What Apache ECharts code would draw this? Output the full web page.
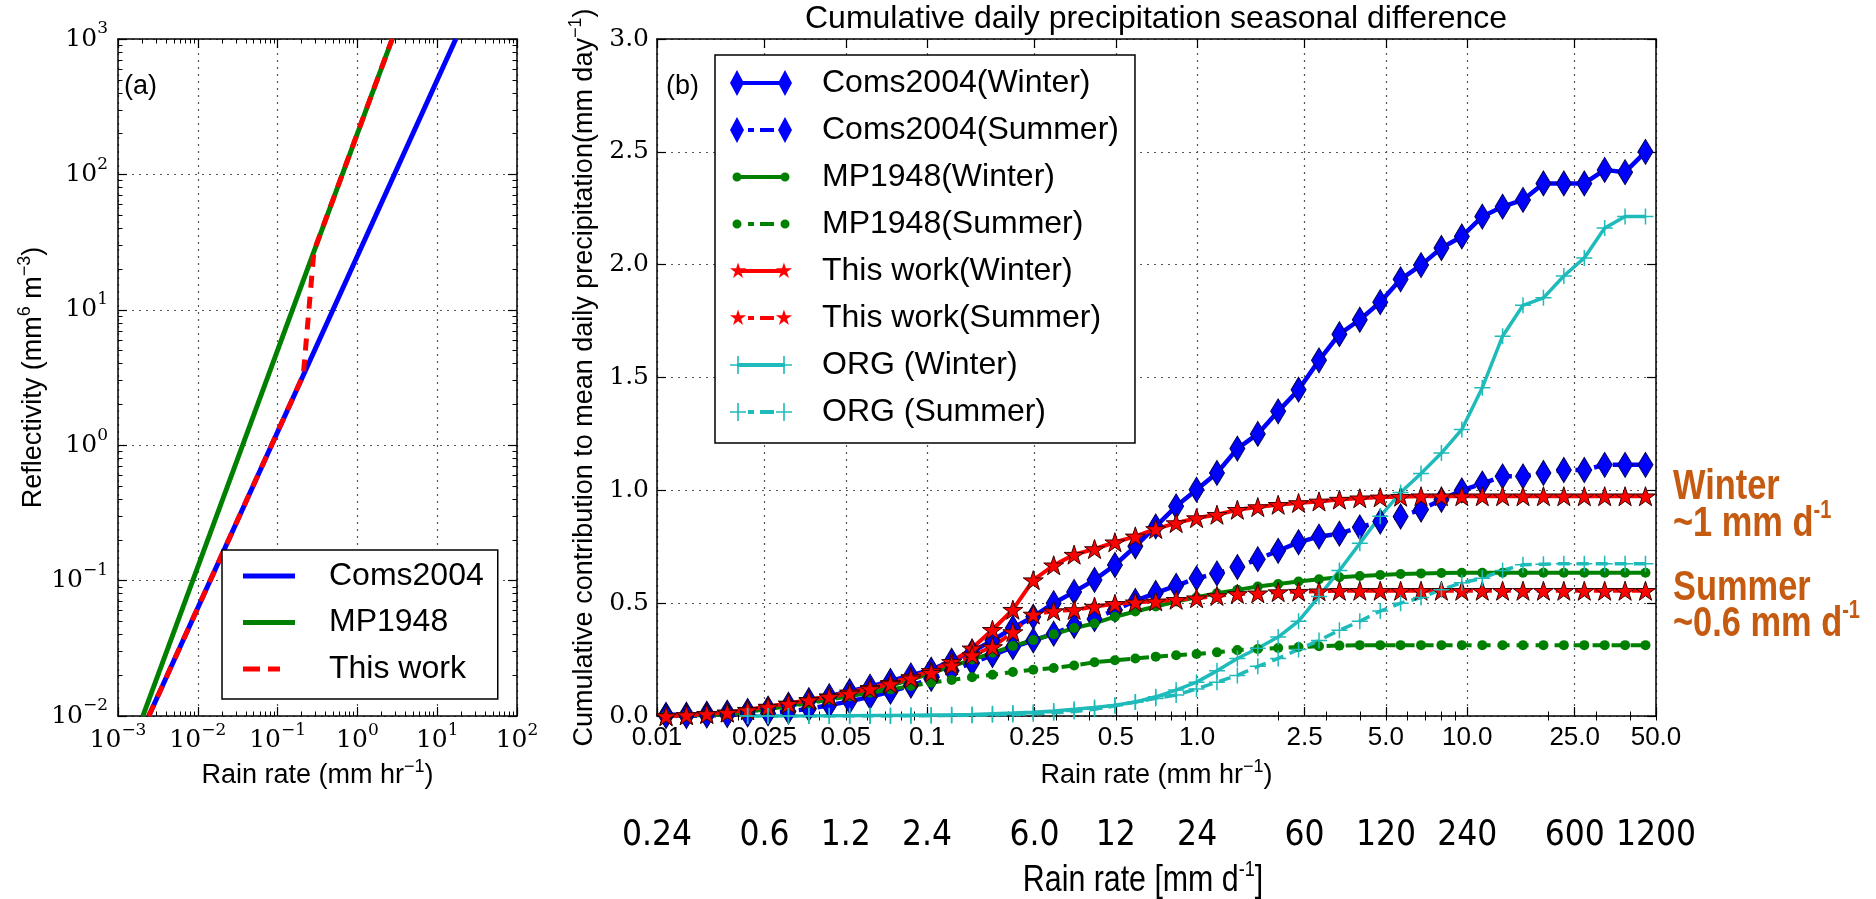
<!DOCTYPE html>
<html>
<head>
<meta charset="utf-8">
<script src="https://cdn.jsdelivr.net/npm/echarts@6/dist/echarts.min.js"></script>
<style>html,body{margin:0;padding:0;background:#fff}#c{width:1876px;height:899px}</style>
</head>
<body>
<div id="c"></div>
<script>
// ================= Panel (a): Z-R relations =================
const zrNames = ['Coms2004', 'MP1948', 'This work'];
const comsRate = [0.00243, 17.1];
const comsZ = [0.01, 1000];
const mpRate = [0.00205, 2.73];
const mpZ = [0.01, 1000];
const thisRate = [0.00243, 0.21, 0.285, 2.73];
const thisZ = [0.01, 3.3, 27, 1000];
const aXTicks = [0.001, 0.01, 0.1, 1, 10, 100];
const aYTicks = [0.01, 0.1, 1, 10, 100, 1000];

// ================= Panel (b): cumulative precipitation =================
const rateBins = [0.0108, 0.01285, 0.01529, 0.0182, 0.02166, 0.02577, 0.03067, 0.0365, 0.04343, 0.05168,
  0.0615, 0.07318, 0.0871, 0.1036, 0.1233, 0.1468, 0.1746, 0.2078, 0.2473, 0.2943,
  0.3503, 0.4169, 0.4961, 0.5904, 0.7025, 0.836, 0.9949, 1.184, 1.409, 1.677,
  1.995, 2.374, 2.826, 3.363, 4.002, 4.763, 5.667, 6.745, 8.025, 9.55,
  11.37, 13.52, 16.09, 19.15, 22.79, 27.13, 32.28, 38.41, 45.71];
const comsWinter = [0.005, 0.006, 0.01, 0.015, 0.022, 0.033, 0.05, 0.07, 0.088, 0.11,
  0.13, 0.155, 0.18, 0.205, 0.245, 0.285, 0.335, 0.39, 0.44, 0.50,
  0.55, 0.603, 0.669, 0.752, 0.84, 0.929, 1.003, 1.077, 1.185, 1.25,
  1.35, 1.446, 1.576, 1.692, 1.756, 1.834, 1.935, 1.998, 2.074, 2.125,
  2.213, 2.257, 2.287, 2.36, 2.36, 2.36, 2.42, 2.41, 2.5];
const comsSummer = [0.0, 0.0, 0.002, 0.004, 0.007, 0.012, 0.02, 0.032, 0.048, 0.065,
  0.085, 0.108, 0.135, 0.165, 0.2, 0.235, 0.27, 0.305, 0.335, 0.365,
  0.4, 0.43, 0.47, 0.51, 0.545, 0.577, 0.61, 0.632, 0.66, 0.695,
  0.732, 0.77, 0.795, 0.808, 0.836, 0.862, 0.884, 0.915, 0.958, 1.0,
  1.03, 1.062, 1.062, 1.077, 1.09, 1.09, 1.113, 1.113, 1.113];
const mpWinter = [0.0, 0.002, 0.004, 0.008, 0.02, 0.03, 0.045, 0.06, 0.078, 0.095,
  0.113, 0.135, 0.16, 0.19, 0.22, 0.25, 0.28, 0.31, 0.337, 0.362,
  0.39, 0.41, 0.44, 0.463, 0.485, 0.507, 0.526, 0.544, 0.559, 0.574,
  0.585, 0.596, 0.606, 0.615, 0.62, 0.625, 0.629, 0.632, 0.634, 0.635,
  0.635, 0.635, 0.635, 0.635, 0.635, 0.635, 0.635, 0.635, 0.635];
const mpSummer = [0.0, 0.002, 0.004, 0.008, 0.018, 0.028, 0.042, 0.057, 0.073, 0.088,
  0.103, 0.118, 0.133, 0.148, 0.16, 0.172, 0.183, 0.195, 0.205, 0.213,
  0.224, 0.238, 0.247, 0.255, 0.263, 0.269, 0.275, 0.282, 0.292, 0.297,
  0.301, 0.306, 0.309, 0.312, 0.314, 0.314, 0.314, 0.314, 0.314, 0.314,
  0.314, 0.314, 0.314, 0.314, 0.314, 0.314, 0.314, 0.314, 0.314];
const thisWinter = [0.0, 0.004, 0.01, 0.016, 0.028, 0.042, 0.056, 0.072, 0.088, 0.105,
  0.125, 0.147, 0.173, 0.2, 0.24, 0.3, 0.382, 0.471, 0.602, 0.668,
  0.715, 0.74, 0.77, 0.796, 0.829, 0.855, 0.877, 0.892, 0.914, 0.926,
  0.936, 0.944, 0.951, 0.959, 0.965, 0.969, 0.972, 0.974, 0.974, 0.974,
  0.974, 0.974, 0.974, 0.974, 0.974, 0.974, 0.974, 0.974, 0.974];
const thisSummer = [0.0, 0.004, 0.009, 0.015, 0.026, 0.04, 0.054, 0.07, 0.085, 0.1,
  0.12, 0.142, 0.167, 0.192, 0.225, 0.27, 0.306, 0.372, 0.45, 0.465,
  0.47, 0.485, 0.497, 0.504, 0.508, 0.515, 0.522, 0.532, 0.541, 0.544,
  0.549, 0.551, 0.553, 0.555, 0.555, 0.555, 0.555, 0.555, 0.555, 0.555,
  0.555, 0.555, 0.555, 0.555, 0.555, 0.555, 0.555, 0.555, 0.555];
const orgWinter = [null, null, null, null, 0.0, 0.0, 0.0, 0.0, 0.001, 0.001,
  0.002, 0.002, 0.003, 0.004, 0.005, 0.007, 0.01, 0.013, 0.017, 0.022,
  0.03, 0.038, 0.048, 0.062, 0.085, 0.115, 0.15, 0.2, 0.255, 0.3,
  0.35, 0.42, 0.53, 0.645, 0.765, 0.885, 0.99, 1.075, 1.165, 1.27,
  1.455, 1.683, 1.82, 1.853, 1.95, 2.03, 2.162, 2.213, 2.213];
const orgSummer = [null, null, null, null, 0.0, 0.0, 0.0, 0.0, 0.0, 0.0,
  0.0, 0.0, 0.0, 0.001, 0.002, 0.003, 0.005, 0.007, 0.01, 0.014,
  0.02, 0.03, 0.045, 0.062, 0.078, 0.093, 0.12, 0.15, 0.18, 0.22,
  0.255, 0.295, 0.335, 0.38, 0.42, 0.465, 0.5, 0.525, 0.56, 0.59,
  0.61, 0.645, 0.67, 0.673, 0.675, 0.675, 0.675, 0.675, 0.675];
const bNames = ['Coms2004(Winter)', 'Coms2004(Summer)', 'MP1948(Winter)', 'MP1948(Summer)',
  'This work(Winter)', 'This work(Summer)', 'ORG (Winter)', 'ORG (Summer)'];
const bTickValues = [0.01, 0.025, 0.05, 0.1, 0.25, 0.5, 1, 2.5, 5, 10, 25, 50];
const bTickLabels = ['0.01', '0.025', '0.05', '0.1', '0.25', '0.5', '1.0', '2.5', '5.0', '10.0', '25.0', '50.0'];
const dayTickLabels = ['0.24', '0.6', '1.2', '2.4', '6.0', '12', '24', '60', '120', '240', '600', '1200'];

// ================= helpers / styling =================
const SANS = "'Liberation Sans', Arial, Helvetica, sans-serif";
const SERIF = "'DejaVu Serif', serif";
const NARROW = "'DejaVu Sans Condensed', 'Liberation Sans Narrow', sans-serif";
const BLUE = '#0000ff', GREEN = '#008000', RED = '#ff0000', CYAN = '#1fbaba', ORANGE = '#c55a11';

function pairs(xs, ys) {
  const out = [];
  for (let i = 0; i < xs.length; i++) if (ys[i] !== null && ys[i] !== undefined) out.push([xs[i], ys[i]]);
  return out;
}
function minorLog(lo, hi, maxV) {
  const out = [];
  for (let e = lo; e < hi; e++) for (let k = 2; k <= 9; k++) {
    const v = +(k * Math.pow(10, e)).toPrecision(6);
    if (v <= maxV) out.push(v);
  }
  return out;
}
function starPath(cx, cy, R) {
  const r = R * 0.382;
  let d = '';
  for (let k = 0; k < 10; k++) {
    const a = (-90 + 36 * k) * Math.PI / 180;
    const rr = k % 2 === 0 ? R : r;
    d += (k === 0 ? 'M' : 'L') + (cx + rr * Math.cos(a)).toFixed(2) + ',' + (cy + rr * Math.sin(a)).toFixed(2);
  }
  return d + 'Z';
}
function rect(x0, y0, x1, y1) { return `M${x0},${y0}L${x1},${y0}L${x1},${y1}L${x0},${y1}Z`; }
const CORNERS = ' M0,0L0.01,0L0,0.01Z M62,26L61.99,26L62,25.99Z';
function diamondP(cx) { return `M${cx - 7},13L${cx},0L${cx + 7},13L${cx},26Z`; }
function circleP(cx) { return `M${cx - 4.5},13A4.5,4.5 0 1,1 ${cx + 4.5},13A4.5,4.5 0 1,1 ${cx - 4.5},13Z`; }
function plusP(cx) { return rect(cx - 0.8, 4, cx + 0.8, 22) + rect(cx - 8, 12.2, cx + 8, 13.8); }
const solidBar = rect(7, 11, 55, 15);
const dashBar = rect(18, 11, 24, 15) + rect(30, 11, 44, 15);

const supRich = (fs, pad, fam) => ({ fontFamily: fam, fontSize: fs, verticalAlign: 'bottom', padding: [0, 0, pad, 0], color: '#000' });
function powLabel(v) {
  const e = Math.round(Math.log10(v));
  return '{b|10}{s|' + (e < 0 ? '\u2212' : '') + Math.abs(e) + '}';
}
const powRich = { b: { fontFamily: SERIF, fontSize: 25, color: '#000' }, s: supRich(17, 20, SERIF) };

const frameLine = { show: true, onZero: false, lineStyle: { color: '#000', width: 1.5 } };
const dots = { show: true, lineStyle: { color: '#555', type: [2, 5], width: 1.2 } };
const noLabel = { show: false };
function majorTick(vals) { return { show: true, inside: true, length: 9, lineStyle: { color: '#000', width: 1.2 }, customValues: vals }; }
function minorTickS(vals) { return { show: true, inside: true, length: 4.5, lineStyle: { color: '#000', width: 1 }, customValues: vals }; }

const minorAX = minorLog(-3, 2, 100);
const minorAY = minorLog(-2, 3, 1000);
const minorBX = minorLog(-2, 2, 50);

const nameStyle = (fs) => ({ fontFamily: SANS, fontSize: fs, color: '#000', rich: { sup: supRich(18, 18, SANS) } });

// ---- axes ----
const xAxes = [
  { // 0: (a) bottom major
    gridIndex: 0, type: 'log', logBase: 10, min: 0.001, max: 100, position: 'bottom',
    axisLine: frameLine, axisTick: majorTick(aXTicks), splitLine: dots,
    axisLabel: { show: true, customValues: aXTicks, formatter: powLabel, rich: powRich, margin: 6 },
    name: 'Rain rate (mm hr{sup|\u22121})', nameLocation: 'middle', nameGap: 42, nameTextStyle: nameStyle(27)
  },
  { gridIndex: 0, type: 'log', logBase: 10, min: 0.001, max: 100, position: 'bottom', axisLine: { show: false }, axisTick: minorTickS(minorAX), axisLabel: noLabel, splitLine: { show: false } },
  { gridIndex: 0, type: 'log', logBase: 10, min: 0.001, max: 100, position: 'top', axisLine: frameLine, axisTick: majorTick(aXTicks), axisLabel: noLabel, splitLine: { show: false } },
  { gridIndex: 0, type: 'log', logBase: 10, min: 0.001, max: 100, position: 'top', axisLine: { show: false }, axisTick: minorTickS(minorAX), axisLabel: noLabel, splitLine: { show: false } },
  { // 4: (b) bottom major
    gridIndex: 1, type: 'log', logBase: 10, min: 0.01, max: 50, position: 'bottom',
    axisLine: frameLine, axisTick: majorTick(bTickValues), splitLine: dots,
    axisLabel: {
      show: true, customValues: bTickValues, margin: 9, fontFamily: SANS, fontSize: 26, color: '#000',
      formatter: v => { const i = bTickValues.findIndex(t => Math.abs(t - v) / t < 1e-6); return i >= 0 ? bTickLabels[i] : ''; }
    },
    name: 'Rain rate (mm hr{sup|\u22121})', nameLocation: 'middle', nameGap: 42, nameTextStyle: nameStyle(27)
  },
  { gridIndex: 1, type: 'log', logBase: 10, min: 0.01, max: 50, position: 'bottom', axisLine: { show: false }, axisTick: minorTickS(minorBX), axisLabel: noLabel, splitLine: { show: false } },
  { gridIndex: 1, type: 'log', logBase: 10, min: 0.01, max: 50, position: 'top', axisLine: frameLine, axisTick: majorTick(bTickValues), axisLabel: noLabel, splitLine: { show: false } },
  { gridIndex: 1, type: 'log', logBase: 10, min: 0.01, max: 50, position: 'top', axisLine: { show: false }, axisTick: minorTickS(minorBX), axisLabel: noLabel, splitLine: { show: false } },
  { // 8: mm/day labels
    gridIndex: 1, type: 'log', logBase: 10, min: 0.01, max: 50, position: 'bottom', offset: 100,
    axisLine: { show: false }, axisTick: { show: false, customValues: bTickValues }, splitLine: { show: false },
    axisLabel: {
      show: true, customValues: bTickValues, margin: 2, fontFamily: NARROW, fontSize: 35, color: '#000',
      formatter: v => { const i = bTickValues.findIndex(t => Math.abs(t - v) / t < 1e-6); return i >= 0 ? dayTickLabels[i] : ''; }
    }
  }
];
const yAxes = [
  { // 0: (a) left major
    gridIndex: 0, type: 'log', logBase: 10, min: 0.01, max: 1000, position: 'left',
    axisLine: frameLine, axisTick: majorTick(aYTicks), splitLine: dots,
    axisLabel: { show: true, customValues: aYTicks, formatter: powLabel, rich: powRich, margin: 10 },
    name: 'Reflectivity (mm{sup|6} m{sup|\u22123})', nameLocation: 'middle', nameRotate: 90, nameGap: 66, nameTextStyle: nameStyle(27)
  },
  { gridIndex: 0, type: 'log', logBase: 10, min: 0.01, max: 1000, position: 'left', axisLine: { show: false }, axisTick: minorTickS(minorAY), axisLabel: noLabel, splitLine: { show: false } },
  { gridIndex: 0, type: 'log', logBase: 10, min: 0.01, max: 1000, position: 'right', axisLine: frameLine, axisTick: majorTick(aYTicks), axisLabel: noLabel, splitLine: { show: false } },
  { gridIndex: 0, type: 'log', logBase: 10, min: 0.01, max: 1000, position: 'right', axisLine: { show: false }, axisTick: minorTickS(minorAY), axisLabel: noLabel, splitLine: { show: false } },
  { // 4: (b) left
    gridIndex: 1, type: 'value', min: 0, max: 3, interval: 0.5, position: 'left',
    axisLine: frameLine, axisTick: { show: true, inside: true, length: 9, lineStyle: { color: '#000', width: 1.2 } }, splitLine: dots,
    axisLabel: { show: true, margin: 8, fontFamily: SERIF, fontSize: 25, color: '#000', formatter: v => v.toFixed(1) },
    name: 'Cumulative contribution to mean daily precipitation(mm day{sup|\u22121})', nameLocation: 'middle', nameRotate: 90, nameGap: 44, nameTextStyle: nameStyle(27)
  },
  { gridIndex: 1, type: 'value', min: 0, max: 3, interval: 0.5, position: 'right',
    axisLine: frameLine, axisTick: { show: true, inside: true, length: 9, lineStyle: { color: '#000', width: 1.2 } }, axisLabel: noLabel, splitLine: { show: false } }
];

// ---- series ----
const diamond = { symbol: 'diamond', symbolSize: [15, 25] };
const star = { symbol: 'path://' + starPath(10, 10, 10), symbolSize: 20, symbolKeepAspect: true };
const plus = { symbol: 'path://M5,0L5,10M0,5L10,5', symbolSize: 16 };
function bSeries(name, ys, color, dashed, mark, itemStyle, width) {
  return Object.assign({
    name, type: 'line', xAxisIndex: 4, yAxisIndex: 4, data: pairs(rateBins, ys),
    showSymbol: true, showAllSymbol: true, clip: true, silent: true,
    lineStyle: { color, width: width || 4, type: dashed ? [12, 7] : 'solid' },
    itemStyle: Object.assign({ color }, itemStyle)
  }, mark);
}
const diamondStyle = { borderColor: '#00004a', borderWidth: 1 };
const starStyle = { borderColor: '#3a0000', borderWidth: 1 };
const plusStyle = { borderColor: CYAN, borderWidth: 1.5 };
const series = [
  { name: zrNames[0], type: 'line', xAxisIndex: 0, yAxisIndex: 0, data: pairs(comsRate, comsZ), showSymbol: false, silent: true, lineStyle: { color: BLUE, width: 5 }, itemStyle: { color: BLUE } },
  { name: zrNames[1], type: 'line', xAxisIndex: 0, yAxisIndex: 0, data: pairs(mpRate, mpZ), showSymbol: false, silent: true, lineStyle: { color: GREEN, width: 5 }, itemStyle: { color: GREEN } },
  { name: zrNames[2], type: 'line', xAxisIndex: 0, yAxisIndex: 0, data: pairs(thisRate, thisZ), showSymbol: false, silent: true, lineStyle: { color: RED, width: 5, type: [12, 9] }, itemStyle: { color: RED } },
  bSeries(bNames[0], comsWinter, BLUE, false, diamond, diamondStyle, 4.5),
  bSeries(bNames[1], comsSummer, BLUE, true, diamond, diamondStyle, 4.5),
  bSeries(bNames[2], mpWinter, GREEN, false, { symbol: 'circle', symbolSize: 10 }, {}),
  bSeries(bNames[3], mpSummer, GREEN, true, { symbol: 'circle', symbolSize: 10 }, {}),
  bSeries(bNames[4], thisWinter, RED, false, star, starStyle),
  bSeries(bNames[5], thisSummer, RED, true, star, starStyle),
  bSeries(bNames[6], orgWinter, CYAN, false, plus, plusStyle, 3.5),
  bSeries(bNames[7], orgSummer, CYAN, true, plus, plusStyle, 3.5)
];

// ---- legends ----
const aIcons = ['path://' + rect(0, 0, 52, 5), 'path://' + rect(0, 0, 52, 5),
  'path://' + rect(0, 0, 17, 5) + rect(25, 0, 37, 5) + 'M51.99,2.4L52,2.4L52,2.6Z'];
const bIcons = [
  'path://' + diamondP(7) + solidBar + diamondP(55) + CORNERS,
  'path://' + diamondP(7) + dashBar + diamondP(55) + CORNERS,
  'path://' + circleP(7) + solidBar + circleP(55) + CORNERS,
  'path://' + circleP(7) + dashBar + circleP(55) + CORNERS,
  'path://' + starPath(8, 13, 8.5) + solidBar + starPath(54, 13, 8.5) + CORNERS,
  'path://' + starPath(8, 13, 8.5) + dashBar + starPath(54, 13, 8.5) + CORNERS,
  'path://' + plusP(8) + solidBar + plusP(54) + CORNERS,
  'path://' + plusP(8) + dashBar + plusP(54) + CORNERS
];
const legendBox = { orient: 'vertical', backgroundColor: '#fff', borderColor: '#000', borderWidth: 1.5, borderRadius: 0, selectedMode: false, itemStyle: { borderWidth: 0 }, symbolKeepAspect: false };

// condensed text for the annotations (horizontal squeeze of Liberation Sans)
const SQ = 0.8;
const orangeSup = { s: { fontFamily: SANS, fontWeight: 'bold', fontSize: 25, fill: ORANGE, verticalAlign: 'bottom', padding: [0, 0, 26, 0] } };
const orangeText = (x, y, text) => ({ type: 'text', x, y, scaleX: SQ, silent: true,
  style: { text, fontFamily: SANS, fontWeight: 'bold', fontSize: 43, fill: ORANGE, align: 'left', verticalAlign: 'middle', rich: orangeSup } });

const option = {
  animation: false,
  backgroundColor: '#fff',
  grid: [
    { left: 118, top: 39, width: 399, height: 677, outerBoundsMode: 'none', containLabel: false },
    { left: 657, top: 39, width: 999, height: 677, outerBoundsMode: 'none', containLabel: false }
  ],
  xAxis: xAxes,
  yAxis: yAxes,
  legend: [
    Object.assign({}, legendBox, {
      left: 222, top: 550, padding: [10, 14, 14, 21], itemGap: 14.5, itemWidth: 52, itemHeight: 5,
      textStyle: { fontFamily: SANS, fontSize: 32, color: '#000', padding: [0, 0, 0, 29] },
      data: zrNames.map((n, i) => ({ name: n, icon: aIcons[i] }))
    }),
    Object.assign({}, legendBox, {
      left: 715, top: 55, padding: [12, 16, 15, 15], itemGap: 15, itemWidth: 62, itemHeight: 26,
      textStyle: { fontFamily: SANS, fontSize: 32, color: '#000', padding: [0, 0, 0, 25] },
      data: bNames.map((n, i) => ({ name: n, icon: bIcons[i] }))
    })
  ],
  series,
  graphic: [
    { type: 'text', x: 1156, y: 19, silent: true, style: { text: 'Cumulative daily precipitation seasonal difference', fontFamily: SANS, fontSize: 32, fill: '#000', align: 'center', verticalAlign: 'middle' } },
    { type: 'text', x: 124, y: 87, silent: true, style: { text: '(a)', fontFamily: SANS, fontSize: 27, fill: '#000', align: 'left', verticalAlign: 'middle' } },
    { type: 'text', x: 666, y: 87, silent: true, style: { text: '(b)', fontFamily: SANS, fontSize: 27, fill: '#000', align: 'left', verticalAlign: 'middle' } },
    orangeText(1673, 487, 'Winter'),
    orangeText(1673, 524, '~1 mm d{s|-1}'),
    orangeText(1673, 588, 'Summer'),
    orangeText(1673, 624, '~0.6 mm d{s|-1}'),
    { type: 'text', x: 1143, y: 881, scaleX: 0.82, silent: true, style: { text: 'Rain rate [mm d{s|-1}]', fontFamily: SANS, fontSize: 37, fill: '#000', align: 'center', verticalAlign: 'middle', rich: { s: { fontFamily: SANS, fontSize: 22, fill: '#000', verticalAlign: 'bottom', padding: [0, 0, 22, 0] } } } }
  ]
};

const chart = echarts.init(document.getElementById('c'), null, { renderer: 'canvas', width: 1876, height: 899 });
chart.setOption(option);
</script>
</body>
</html>
